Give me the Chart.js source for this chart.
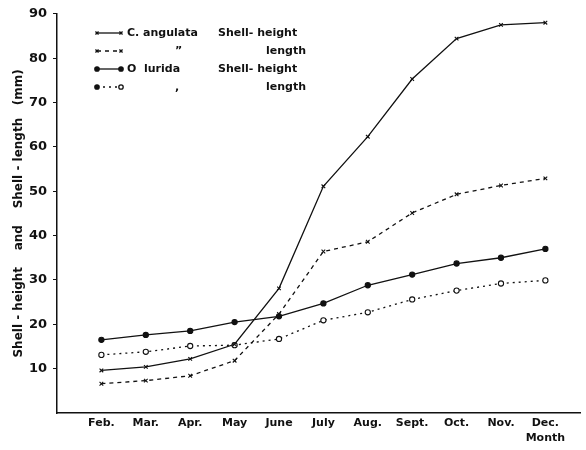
<!DOCTYPE html>
<html>
<head>
<meta charset="utf-8">
<script src="https://cdn.jsdelivr.net/npm/chart.js@4.4.1/dist/chart.umd.min.js"></script>
<style>
  html, body { margin: 0; padding: 0; background: #fff; }
  #wrap { width: 586px; height: 450px; position: relative; }
</style>
</head>
<body>
<div id="wrap"><canvas id="shellChart"></canvas></div>
<script>
// Data (mm)
const months = ['Feb.', 'Mar.', 'Apr.', 'May', 'June', 'July', 'Aug.', 'Sept.', 'Oct.', 'Nov.', 'Dec.'];
const cAngulataHeight = [9.6, 10.4, 12.2, 15.5, 28.1, 51.1, 62.3, 75.3, 84.4, 87.5, 88.0];
const cAngulataLength = [6.6, 7.3, 8.4, 11.8, 22.3, 36.4, 38.6, 45.1, 49.3, 51.3, 52.9];
const oLuridaHeight = [16.5, 17.6, 18.5, 20.5, 21.8, 24.7, 28.8, 31.2, 33.7, 35.0, 37.0];
const oLuridaLength = [13.1, 13.8, 15.1, 15.3, 16.7, 20.9, 22.7, 25.6, 27.6, 29.2, 29.9];
const yTicks = [10, 20, 30, 40, 50, 60, 70, 80, 90];

const ink = '#111';
const fontFamily = "'DejaVu Sans', 'Liberation Sans', sans-serif";

const toPoints = (arr) => arr.map((v, i) => ({ x: i, y: v }));

// Legend rows: [name, ditto, part, dataset index]
const legendRows = [
  ['C. angulata', '', 'Shell- height', 0],
  ['', '\u201D', 'length', 1],
  ['O  lurida', '', 'Shell- height', 2],
  ['', ',', 'length', 3]
];

// Draws the in-plot legend and the "Month" label
const figureText = {
  id: 'figureText',
  afterDraw(chart) {
    const c = chart.ctx;
    const xs = chart.scales.x;
    c.save();
    c.fillStyle = ink;
    c.strokeStyle = ink;
    c.font = 'bold 11px ' + fontFamily;
    c.textBaseline = 'middle';
    legendRows.forEach((row, i) => {
      const ds = chart.data.datasets[row[3]];
      const y = 33 + i * 18;
      c.lineWidth = 1.3;
      c.setLineDash(ds.borderDash || []);
      c.beginPath();
      c.moveTo(97, y);
      c.lineTo(121, y);
      c.stroke();
      c.setLineDash([]);
      Chart.helpers.drawPoint(c, {
        pointStyle: ds.pointStyle, radius: 2.2, rotation: 0, borderWidth: 1
      }, 97, y);
      c.fillStyle = ds.pointBackgroundColor;
      Chart.helpers.drawPoint(c, {
        pointStyle: ds.pointStyle, radius: 2.2, rotation: 0, borderWidth: 1
      }, 121, y);
      c.fillStyle = ink;
      c.textAlign = 'left';
      if (row[0]) c.fillText(row[0], 127, y);
      if (row[1]) c.fillText(row[1], 175, y);
      if (row[2] === 'length') c.fillText(row[2], 266, y);
      else c.fillText(row[2], 218, y);
    });
    c.textAlign = 'center';
    c.fillText('Month', xs.getPixelForValue(10), 438);
    c.restore();
  }
};

const lineDefaults = {
  borderColor: ink,
  borderWidth: 1.3,
  pointBorderColor: ink,
  pointBorderWidth: 1.1,
  pointRadius: 2.6,
  tension: 0
};

const chart = new Chart(document.getElementById('shellChart'), {
  type: 'line',
  data: {
    datasets: [
      { ...lineDefaults, label: 'C. angulata Shell-height', data: toPoints(cAngulataHeight),
        pointStyle: 'crossRot', pointBackgroundColor: '#fff' },
      { ...lineDefaults, label: 'C. angulata length', data: toPoints(cAngulataLength),
        pointStyle: 'crossRot', pointBackgroundColor: '#fff', borderDash: [4, 4] },
      { ...lineDefaults, label: 'O lurida Shell-height', data: toPoints(oLuridaHeight),
        pointStyle: 'circle', pointBackgroundColor: ink },
      { ...lineDefaults, label: 'O lurida length', data: toPoints(oLuridaLength),
        pointStyle: 'circle', pointBackgroundColor: '#fff', borderDash: [2, 4] }
    ]
  },
  options: {
    responsive: true,
    maintainAspectRatio: false,
    animation: false,
    layout: { padding: { top: 6, right: 0, left: 12 } },
    plugins: {
      legend: { display: false },
      tooltip: { enabled: false }
    },
    scales: {
      x: {
        type: 'linear',
        min: -1,
        max: 10.8,
        grid: { drawOnChartArea: false, drawTicks: false },
        border: { color: ink, width: 1.5 },
        afterBuildTicks: (scale) => { scale.ticks = months.map((_, i) => ({ value: i })); },
        afterFit: (scale) => { scale.height = 37; },
        ticks: {
          color: ink,
          padding: 4,
          maxRotation: 0,
          autoSkip: false,
          font: { family: fontFamily, size: 11, weight: 'bold' },
          callback: (value) => months[value]
        }
      },
      y: {
        min: 0,
        max: 90,
        grid: { drawOnChartArea: false, tickLength: 4, color: ink },
        border: { color: ink, width: 1.5 },
        afterBuildTicks: (scale) => { scale.ticks = yTicks.map(v => ({ value: v })); },
        afterFit: (scale) => { scale.width = 45; },
        ticks: {
          color: ink,
          padding: 6,
          font: { family: fontFamily, size: 13, weight: 'bold' }
        },
        title: {
          display: true,
          text: 'Shell - height    and    Shell - length   (mm)',
          color: ink,
          padding: 0,
          font: { family: fontFamily, size: 12, weight: 'bold' }
        }
      }
    }
  },
  plugins: [figureText]
});
</script>
</body>
</html>
